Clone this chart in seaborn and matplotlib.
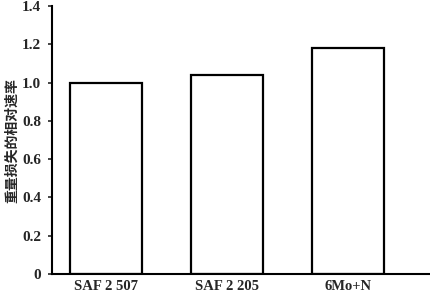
import matplotlib
matplotlib.use("Agg")
import matplotlib.pyplot as plt
import seaborn as sns
import pandas as pd

categories = ["SAF 2 507", "SAF 2 205", "6Mo+N"]
values = [1.0, 1.04, 1.18]
yticks = [0, 0.2, 0.4, 0.6, 0.8, 1.0, 1.2, 1.4]
ytick_labels = ["0", "0.2", "0.4", "0.6", "0.8", "1.0", "1.2", "1.4"]
ylabel = "重量损失的相对速率"

sns.set_style("white")
plt.rcParams['font.family'] = ['Liberation Serif', 'Noto Sans CJK SC']

df = pd.DataFrame({"cat": categories, "val": values})

fig = plt.figure(figsize=(4.30, 2.95), dpi=100)
ax = fig.add_axes([0.121, 0.071, 0.879, 0.909])
sns.barplot(data=df, x="cat", y="val", ax=ax, color="white", width=0.6,
            edgecolor="black", linewidth=1.6, saturation=1)

ax.set_ylim(0, 1.4)
ax.set_xlim(-0.446, 2.68)
ax.set_yticks(yticks)
ax.set_yticklabels(ytick_labels, fontsize=11, fontweight="bold")
ax.set_xticks(range(len(categories)))
ax.set_xticklabels(categories, fontsize=10.5, fontweight="bold")
ax.tick_params(axis="y", direction="out", length=3, width=1.2, pad=5, left=True)
ax.tick_params(axis="x", length=0, pad=4)
ax.set_xlabel("")
ax.set_ylabel(ylabel, fontsize=10, fontweight="bold", family=['Noto Sans CJK SC'])
ax.yaxis.set_label_coords(-0.088, 0.496)
for s in ["top", "right"]:
    ax.spines[s].set_visible(False)
for s in ["left", "bottom"]:
    ax.spines[s].set_linewidth(1.5)
    ax.spines[s].set_color("black")

fig.savefig("out.png", dpi=100)
